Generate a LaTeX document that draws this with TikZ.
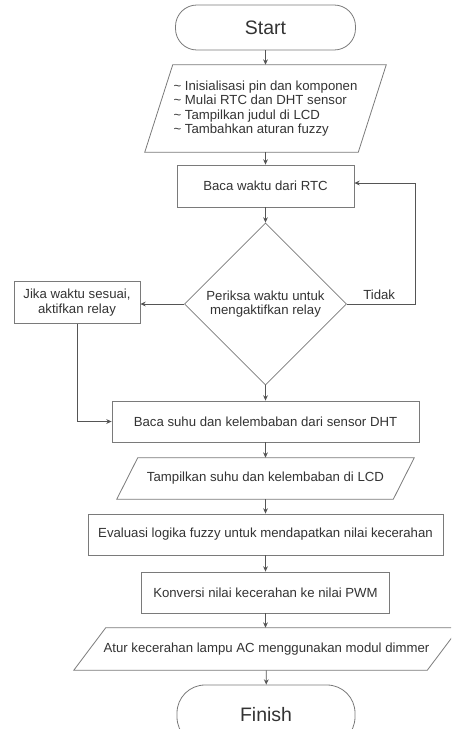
\documentclass[tikz,border=0pt]{standalone}
\usepackage{fontspec}
\setmainfont{Liberation Sans}
\usetikzlibrary{shapes.geometric,arrows.meta,calc}
\definecolor{txt}{HTML}{333333}
\definecolor{brd}{HTML}{7A7A7A}
\definecolor{arr}{HTML}{555555}
\begin{document}
\begin{tikzpicture}[x=0.75pt,y=-0.75pt,
  base/.style={text=txt, font=\fontsize{9.9}{11}\selectfont, inner sep=0pt, align=center},
  proc/.style={base, draw=brd, line width=0.6pt, rectangle},
  term/.style={base, draw=brd, line width=0.6pt, rectangle, font=\fontsize{14.6}{16}\selectfont},
  io/.style={base},
  decision/.style={base, draw=brd, line width=0.6pt, diamond, aspect=1},
  iobrd/.style={draw=brd, line width=0.6pt},
  conn/.style={draw=arr, line width=0.6pt, -{Stealth[length=4pt,width=3.6pt]}},
  lbl/.style={text=txt, font=\fontsize{9.9}{11}\selectfont, inner sep=0pt},
]
\path[use as bounding box, clip] (0,0) rectangle (451,729);

\node[term, rounded corners=16pt, minimum width={180*0.75pt}, minimum height={45*0.75pt}] (start) at (265.5,27.5) {Start};

\node[io, align=left, font=\fontsize{9.9}{10.8}\selectfont, minimum width={213*0.75pt}, minimum height={87*0.75pt}] (p1) at (265.5,108.5)
  {\textasciitilde{} Inisialisasi pin dan komponen\\
   \textasciitilde{} Mulai RTC dan DHT sensor\\
   \textasciitilde{} Tampilkan judul di LCD\\
   \textasciitilde{} Tambahkan aturan fuzzy};
\draw[iobrd] ($(p1.north west)+(14,0)$) -- ($(p1.north east)+(14,0)$) -- ($(p1.south east)+(-14,0)$) -- ($(p1.south west)+(-14,0)$) -- cycle;

\node[proc, minimum width={177*0.75pt}, minimum height={42*0.75pt}] (rtc) at (265.5,186) {Baca waktu dari RTC};

\node[decision, minimum width={162*0.75pt}, minimum height={162*0.75pt}] (dec) at (265.5,304) {Periksa waktu untuk\\mengaktifkan relay};

\node[proc, minimum width={126*0.75pt}, minimum height={42*0.75pt}] (jika) at (77,302.5) {Jika waktu sesuai,\\aktifkan relay};

\node[lbl, anchor=west] (tidak) at (363,295) {Tidak};
\coordinate (loopr) at (415,304);

\node[proc, minimum width={307*0.75pt}, minimum height={41*0.75pt}] (dht) at (265.5,421.5) {Baca suhu dan kelembaban dari sensor DHT};

\node[io, minimum width={276*0.75pt}, minimum height={41*0.75pt}] (p2) at (265.5,478.5) {Tampilkan suhu dan kelembaban di LCD};
\draw[iobrd] ($(p2.north west)+(10.5,0)$) -- ($(p2.north east)+(10.5,0)$) -- ($(p2.south east)+(-10.5,0)$) -- ($(p2.south west)+(-10.5,0)$) -- cycle;

\node[proc, minimum width={355*0.75pt}, minimum height={41*0.75pt}] (eval) at (265.5,534.5) {Evaluasi logika fuzzy untuk mendapatkan nilai kecerahan};

\node[proc, minimum width={248*0.75pt}, minimum height={41*0.75pt}] (konv) at (265.5,592.5) {Konversi nilai kecerahan ke nilai PWM};

\node[io, minimum width={353*0.75pt}, minimum height={42*0.75pt}] (p3) at (266.5,649) {Atur kecerahan lampu AC menggunakan modul dimmer};
\draw[iobrd] ($(p3.north west)+(16,0)$) -- ($(p3.north east)+(16,0)$) -- ($(p3.south east)+(-16,0)$) -- ($(p3.south west)+(-16,0)$) -- cycle;

\node[term, rounded corners=21pt, minimum width={178*0.75pt}, minimum height={60*0.75pt}] (fin) at (266,715) {Finish};

\draw[conn] (start) -- (p1);
\draw[conn] (p1) -- (rtc);
\draw[conn] (rtc) -- (dec);
\draw[conn] (dec.east) -- (loopr) |- ($(rtc.east)+(0,-3)$);
\draw[conn] (dec.west) -- (dec.west -| jika.east);
\draw[conn] (jika.south) |- (dht.west);
\draw[conn] (dec.south) -- (dht.north);
\draw[conn] (dht) -- (p2);
\draw[conn] (p2) -- (eval);
\draw[conn] (eval) -- (konv);
\draw[conn] (konv) -- (konv |- p3.north);
\draw[conn] (p3) -- (fin);
\end{tikzpicture}
\end{document}
